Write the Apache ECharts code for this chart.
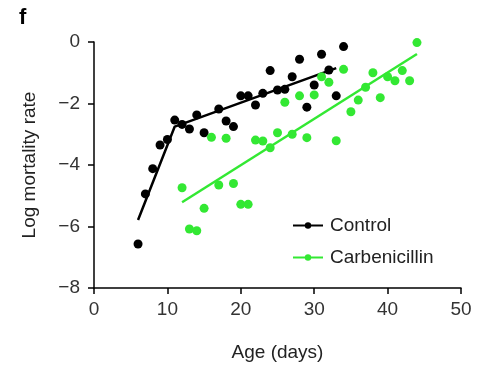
<!DOCTYPE html>
<html>
<head>
<meta charset="utf-8">
<script src="https://cdn.jsdelivr.net/npm/echarts@6/dist/echarts.min.js"></script>
<style>
html,body{margin:0;padding:0;background:#fff;}
#chart{width:487px;height:368px;}
</style>
</head>
<body>
<div id="chart"></div>
<script>
// Data
var controlDays = [6,7,8,9,10,11,12,13,14,15,17,18,19,20,21,22,23,24,25,26,27,28,29,30,31,32,33,34];
var controlVals = [-6.57,-4.94,-4.12,-3.35,-3.17,-2.54,-2.68,-2.83,-2.37,-2.95,-2.18,-2.57,-2.75,-1.75,-1.75,-2.05,-1.67,-0.93,-1.56,-1.54,-1.13,-0.56,-2.12,-1.40,-0.40,-0.91,-1.75,-0.15];
var carbDays = [12,13,14,15,16,17,18,19,20,21,22,23,24,25,26,27,28,29,30,31,32,33,34,35,36,37,38,39,40,41,42,43,44];
var carbVals = [-4.74,-6.08,-6.14,-5.41,-3.10,-4.65,-3.13,-4.60,-5.28,-5.28,-3.19,-3.22,-3.44,-2.95,-1.96,-3.00,-1.75,-3.11,-1.72,-1.13,-1.31,-3.21,-0.89,-2.27,-1.89,-1.47,-1.00,-1.81,-1.13,-1.26,-0.93,-1.26,-0.02];
// fitted lines (breakpoints)
var controlFitDays = [6,11,33];
var controlFitVals = [-5.79,-2.75,-0.85];
var carbFitDays = [12,44];
var carbFitVals = [-5.21,-0.39];
var xTicks = [0,10,20,30,40,50];
var yTicks = [-8,-6,-4,-2,0];

var BLACK = '#000000';
var GREEN = '#33e833';
var FONT = 'Liberation Sans, Arial, Helvetica, sans-serif';

function zip(a,b){ return a.map(function(v,i){ return [v,b[i]]; }); }

var chart = echarts.init(document.getElementById('chart'), null, {renderer:'canvas'});
chart.setOption({
  backgroundColor:'#ffffff',
  animation:false,
  textStyle:{fontFamily:FONT},
  title:{text:'f', left:14, top:2, textStyle:{fontFamily:FONT, fontWeight:'bold', fontSize:22, color:'#000'}},
  grid:{left:94, right:26, top:42, bottom:80, containLabel:false},
  legend:{
    data:['Control','Carbenicillin'],
    orient:'vertical', left:292, top:216, padding:0,
    itemWidth:30, itemHeight:8, itemGap:13,
    textStyle:{fontFamily:FONT, fontSize:19, color:'#222', padding:[0,0,0,2]}
  },
  xAxis:{
    type:'value', min:xTicks[0], max:xTicks[xTicks.length-1], interval:10,
    name:'Age (days)', nameLocation:'middle', nameGap:55,
    nameTextStyle:{fontFamily:FONT, fontSize:19, color:'#222'},
    axisLine:{show:true, onZero:false, lineStyle:{color:'#000', width:1.5}},
    axisTick:{show:true, length:6, lineStyle:{color:'#000', width:1.5}},
    axisLabel:{fontFamily:FONT, fontSize:19, color:'#333', margin:12},
    splitLine:{show:false}
  },
  yAxis:{
    type:'value', min:yTicks[0], max:yTicks[yTicks.length-1], interval:2,
    name:'Log mortality rate', nameLocation:'middle', nameGap:55,
    nameTextStyle:{fontFamily:FONT, fontSize:19, color:'#222'},
    axisLine:{show:true, onZero:false, lineStyle:{color:'#000', width:1.5}},
    axisTick:{show:true, length:6, lineStyle:{color:'#000', width:1.5}},
    axisLabel:{fontFamily:FONT, fontSize:19, color:'#333', margin:14,
      formatter:function(v){ return v<0 ? '\u2212'+Math.abs(v) : String(v); }},
    splitLine:{show:false}
  },
  series:[
    {name:'Control', type:'line', data:zip(controlFitDays,controlFitVals), showSymbol:false, symbol:'circle',
     lineStyle:{color:BLACK, width:2.5}, itemStyle:{color:BLACK}, z:2},
    {name:'Carbenicillin', type:'line', data:zip(carbFitDays,carbFitVals), showSymbol:false, symbol:'circle',
     lineStyle:{color:GREEN, width:2.5}, itemStyle:{color:GREEN}, z:2},
    {name:'Control points', type:'scatter', data:zip(controlDays,controlVals), symbolSize:9,
     itemStyle:{color:BLACK, opacity:1}, z:3},
    {name:'Carbenicillin points', type:'scatter', data:zip(carbDays,carbVals), symbolSize:9,
     itemStyle:{color:GREEN, opacity:1}, z:3}
  ]
});
</script>
</body>
</html>
